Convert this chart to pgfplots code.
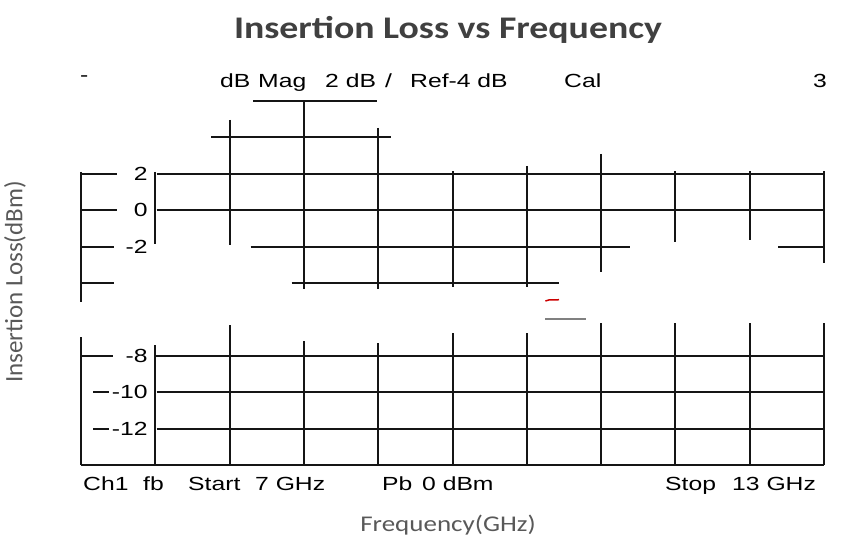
\documentclass[border=0pt]{standalone}
\usepackage{fontspec}
\setmainfont{Carlito}
\newfontfamily\arial{Liberation Sans}
\usepackage{pgfplots}
\pgfplotsset{compat=1.18}
\definecolor{titlegray}{HTML}{404040}
\definecolor{labelgray}{HTML}{595959}
\definecolor{gridk}{HTML}{151515}
\newcommand\inst[1]{{\arial\fontsize{19bp}{22bp}\selectfont\scalebox{1.3}[1]{#1}}}
\newcommand\seg[4]{\addplot[gridk, line width=2bp, forget plot] coordinates {(#1,#2) (#3,#4)};}
\begin{document}
\begin{tikzpicture}[x=1bp,y=1bp]
\path[use as bounding box] (0,0) rectangle (851,542);
% title and axis labels
\node[anchor=base, text=titlegray] at (448,503) {\fontsize{31.5bp}{36bp}\selectfont\bfseries\scalebox{1.2}[1]{Insertion Loss vs Frequency}};
\node[rotate=90, text=labelgray] at (15,260) {\fontsize{25bp}{29bp}\selectfont Insertion Loss(dBm)};
\node[text=labelgray] at (448,17) {\fontsize{22.5bp}{26bp}\selectfont\scalebox{1.2}[1]{Frequency(GHz)}};
% instrument header
\node[anchor=base west, inner sep=0pt] at (80,460) {\inst{-}};
\node[anchor=base west, inner sep=0pt] at (220,454) {\inst{dB}};
\node[anchor=base west, inner sep=0pt] at (258,454) {\inst{Mag}};
\node[anchor=base west, inner sep=0pt] at (325,454) {\inst{2 dB}};
\node[anchor=base west, inner sep=0pt] at (385,454) {\inst{/}};
\node[anchor=base west, inner sep=0pt] at (410,454) {\inst{Ref-4 dB}};
\node[anchor=base west, inner sep=0pt] at (564,454) {\inst{Cal}};
\node[anchor=base west, inner sep=0pt] at (813,454) {\inst{3}};
% instrument footer
\node[anchor=base west, inner sep=0pt] at (83,51) {\inst{Ch1}};
\node[anchor=base west, inner sep=0pt] at (143,51) {\inst{fb}};
\node[anchor=base west, inner sep=0pt] at (188,51) {\inst{Start}};
\node[anchor=base west, inner sep=0pt] at (255,51) {\inst{7 GHz}};
\node[anchor=base west, inner sep=0pt] at (382,51) {\inst{Pb}};
\node[anchor=base west, inner sep=0pt] at (422,51) {\inst{0 dBm}};
\node[anchor=base west, inner sep=0pt] at (665,51) {\inst{Stop}};
\node[anchor=base west, inner sep=0pt] at (732,51) {\inst{13 GHz}};
\begin{axis}[at={(81bp,77bp)}, anchor=south west, scale only axis,
  width=743bp, height=364bp, xmin=7, xmax=13, ymin=-14, ymax=6,
  axis lines=none, clip=false]
% horizontal grid fragments
\seg{8.39}{6}{9.39}{6}
\seg{8.05}{4}{9.50}{4}
\seg{7}{2}{7.29}{2} \seg{7.61}{2}{13}{2}
\seg{7}{0}{7.29}{0} \seg{7.61}{0}{13}{0}
\seg{7}{-2}{7.27}{-2} \seg{8.37}{-2}{11.43}{-2} \seg{12.63}{-2}{13}{-2}
\seg{7}{-4}{7.27}{-4} \seg{8.70}{-4}{10.86}{-4}
\seg{7}{-8}{7.26}{-8} \seg{7.60}{-8}{13}{-8}
\seg{7.10}{-10}{7.23}{-10} \seg{7.61}{-10}{13}{-10}
\seg{7.10}{-12}{7.23}{-12} \seg{7.61}{-12}{13}{-12}
\seg{7}{-14}{13}{-14}
% vertical grid fragments
\seg{7}{2.10}{7}{-5.04} \seg{7}{-6.97}{7}{-14}
\seg{7.6}{2.10}{7.6}{-1.86} \seg{7.6}{-7.41}{7.6}{-14}
\seg{8.2}{4.96}{8.2}{-1.91} \seg{8.2}{-6.31}{8.2}{-14}
\seg{8.8}{6}{8.8}{-4.33} \seg{8.8}{-7.19}{8.8}{-14}
\seg{9.4}{4.52}{9.4}{-4.33} \seg{9.4}{-7.30}{9.4}{-14}
\seg{10}{2.15}{10}{-4.22} \seg{10}{-6.75}{10}{-14}
\seg{10.6}{2.43}{10.6}{-4.22} \seg{10.6}{-6.75}{10.6}{-14}
\seg{11.2}{3.09}{11.2}{-3.40} \seg{11.2}{-6.20}{11.2}{-14}
\seg{11.8}{2.15}{11.8}{-1.75} \seg{11.8}{-6.20}{11.8}{-14}
\seg{12.4}{2.15}{12.4}{-1.64} \seg{12.4}{-6.20}{12.4}{-14}
\seg{13}{2.15}{13}{-2.90} \seg{13}{-6.20}{13}{-14}
% trace remnants
\addplot[gray, line width=1.8bp] coordinates {(10.75,-5.97) (11.08,-5.97)};
\addplot[red!80!black, line width=1.5bp] coordinates {(10.75,-4.99) (10.78,-4.93) (10.86,-4.92)};
% tick labels inside the grid
\node[anchor=east, inner sep=0pt] at (axis cs:7.54,2) {\inst{2}};
\node[anchor=east, inner sep=0pt] at (axis cs:7.54,0) {\inst{0}};
\node[anchor=east, inner sep=0pt] at (axis cs:7.54,-2) {\inst{-2}};
\node[anchor=east, inner sep=0pt] at (axis cs:7.54,-8) {\inst{-8}};
\node[anchor=east, inner sep=0pt] at (axis cs:7.54,-10) {\inst{-10}};
\node[anchor=east, inner sep=0pt] at (axis cs:7.54,-12) {\inst{-12}};
\end{axis}
\end{tikzpicture}
\end{document}
